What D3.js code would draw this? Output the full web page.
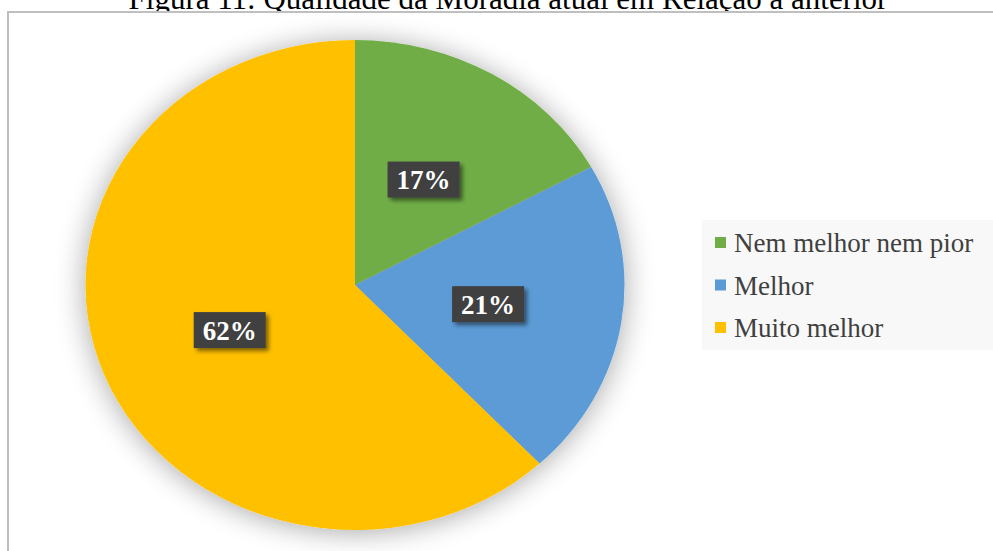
<!DOCTYPE html>
<html lang="pt">
  <head>
    <script src="https://d3js.org/d3.v7.min.js"></script>
    <meta charset="UTF-8" />
    <title>Figura 11</title>
    <style>
      body { margin: 0; background: #fff; }
    </style>
  </head>
  <body>
    <svg width="993" height="551"></svg>
    <script>
      // data
      var categories = ["Nem melhor nem pior", "Melhor", "Muito melhor"];
      var values = [17, 21, 62];
      var colors = ["#70ad47", "#5b9bd5", "#ffc000"];
      var title = "Figura 11: Qualidade da Moradia atual em Relação à anterior";

      var svg = d3.select("svg");
      var defs = svg.append("defs");

      var glow = defs.append("filter").attr("id", "glow")
        .attr("x", "-30%").attr("y", "-30%").attr("width", "160%").attr("height", "160%");
      glow.append("feGaussianBlur").attr("in", "SourceAlpha").attr("stdDeviation", 14);
      glow.append("feOffset").attr("dx", 0).attr("dy", 2).attr("result", "b");
      glow.append("feComponentTransfer").append("feFuncA").attr("type", "linear").attr("slope", 0.35);
      var m = glow.append("feMerge");
      m.append("feMergeNode");
      m.append("feMergeNode").attr("in", "SourceGraphic");

      var shadow = defs.append("filter").attr("id", "shadow")
        .attr("x", "-30%").attr("y", "-30%").attr("width", "160%").attr("height", "160%");
      shadow.append("feGaussianBlur").attr("in", "SourceAlpha").attr("stdDeviation", 2);
      shadow.append("feOffset").attr("dx", 3).attr("dy", 3);
      shadow.append("feComponentTransfer").append("feFuncA").attr("type", "linear").attr("slope", 0.5);
      var m2 = shadow.append("feMerge");
      m2.append("feMergeNode");
      m2.append("feMergeNode").attr("in", "SourceGraphic");

      // title (cut at the top in the original)
      svg.append("text")
        .attr("x", 508)
        .attr("y", 9)
        .attr("text-anchor", "middle")
        .attr("font-family", "Liberation Serif, serif")
        .attr("font-size", "31px")
        .attr("fill", "#000")
        .text(title);

      // chart frame
      svg.append("rect")
        .attr("x", 8).attr("y", 12)
        .attr("width", 1000).attr("height", 560)
        .attr("fill", "#fff")
        .attr("stroke", "#bfbfbf")
        .attr("stroke-width", 2);

      var cx = 355, cy = 285, r = 245, sx = 1.1;

      var pie = d3.pie().sort(null).value(function (d) { return d; });
      var arcs = pie(values);
      var arc = d3.arc().innerRadius(0).outerRadius(r);
      var labelArc = d3.arc().innerRadius(r * 0.5).outerRadius(r * 0.5);

      var g = svg.append("g")
        .attr("transform", "translate(" + cx + "," + cy + ") scale(" + sx + ",1)")
        .attr("filter", "url(#glow)");

      g.selectAll("path")
        .data(arcs)
        .enter()
        .append("path")
        .attr("d", arc)
        .attr("fill", function (d, i) { return colors[i]; });

      // data labels
      var lg = svg.append("g").attr("transform", "translate(" + cx + "," + cy + ")");
      var lab = lg.selectAll(".lab")
        .data(arcs)
        .enter()
        .append("g")
        .attr("class", "lab")
        .attr("transform", function (d) {
          var c = labelArc.centroid(d);
          return "translate(" + c[0] * sx + "," + c[1] + ")";
        });
      lab.append("rect")
        .attr("x", -36).attr("y", -18)
        .attr("width", 72).attr("height", 36)
        .attr("fill", "#404040")
        .attr("filter", "url(#shadow)");
      lab.append("text")
        .attr("text-anchor", "middle")
        .attr("dy", "0.35em")
        .attr("font-family", "Liberation Serif, serif")
        .attr("font-weight", "bold")
        .attr("font-size", "27px")
        .attr("fill", "#fff")
        .text(function (d) { return d.value + "%"; });

      // legend
      svg.append("rect")
        .attr("x", 702).attr("y", 220)
        .attr("width", 300).attr("height", 130)
        .attr("fill", "#f8f8f8");

      var y = d3.scalePoint().domain(categories).range([243, 328]);
      var leg = svg.selectAll(".leg")
        .data(categories)
        .enter()
        .append("g")
        .attr("class", "leg")
        .attr("transform", function (d) { return "translate(715," + y(d) + ")"; });
      leg.append("rect")
        .attr("x", 0).attr("y", -6)
        .attr("width", 11).attr("height", 11)
        .attr("fill", function (d, i) { return colors[i]; });
      leg.append("text")
        .attr("x", 19)
        .attr("dy", "0.35em")
        .attr("font-family", "Liberation Serif, serif")
        .attr("font-size", "27px")
        .attr("fill", "#404040")
        .text(function (d) { return d; });
    </script>
  </body>
</html>
